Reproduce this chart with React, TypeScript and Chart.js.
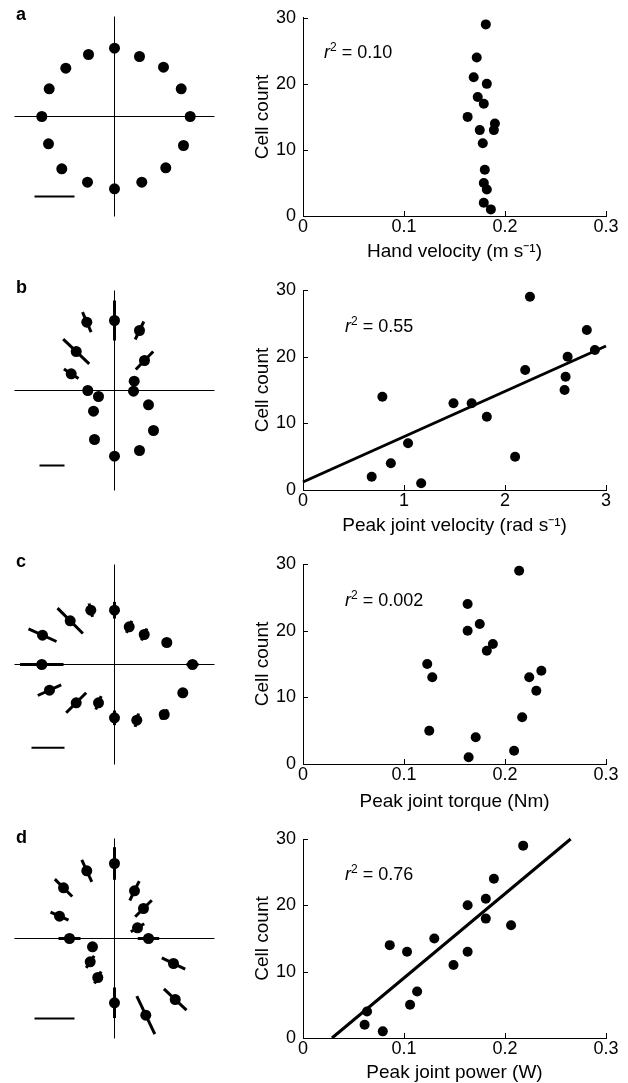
import React, { useEffect, useRef } from 'react';
import { Chart, registerables } from 'chart.js';
Chart.register(...registerables);

const FONT = '"Liberation Sans", Arial, Helvetica, sans-serif';
Chart.defaults.font.family = FONT;
Chart.defaults.color = '#000';

// ---------- Right-hand scatter panels ----------
const cellCount = [29, 24, 21, 20, 18, 17, 15, 14, 13, 13, 11, 7, 5, 4, 2, 1];
const handVelocity = [0.181, 0.172, 0.169, 0.182, 0.173, 0.179, 0.163, 0.19, 0.175, 0.189, 0.178, 0.18, 0.179, 0.182, 0.179, 0.186];
const peakJointVelocity = [2.247, 2.81, 2.89, 2.62, 2.2, 2.6, 2.59, 0.786, 1.49, 1.67, 1.82, 1.04, 2.1, 0.87, 0.68, 1.17];
const peakJointTorque = [0.214, 0.163, 0.175, 0.163, 0.188, 0.182, 0.123, 0.236, 0.128, 0.224, 0.231, 0.217, 0.125, 0.171, 0.209, 0.164];
const peakJointPower = [0.218, 0.189, 0.181, 0.163, 0.181, 0.206, 0.13, 0.0859, 0.103, 0.163, 0.149, 0.113, 0.106, 0.0634, 0.061, 0.079];

const fitVelocityX = [0, 3];
const fitVelocityY = [1.2, 21.6];
const fitPowerX = [0.0287, 0.265];
const fitPowerY = [0, 30];

const yTicks = [0, 10, 20, 30];
const yTickLabels = ['0', '10', '20', '30'];
const xTicksSmall = [0, 0.1, 0.2, 0.3];
const xTickLabelsSmall = ['0', '0.1', '0.2', '0.3'];
const xTicksVel = [0, 1, 2, 3];
const xTickLabelsVel = ['0', '1', '2', '3'];

const r2Values = ['0.10', '0.55', '0.002', '0.76'];
const xTitles = ['Hand velocity (m s⁻¹)', 'Peak joint velocity (rad s⁻¹)', 'Peak joint torque (Nm)', 'Peak joint power (W)'];
const panelLetters = ['a', 'b', 'c', 'd'];

// ---------- Left-hand direction panels (axis half-length = 1) ----------
const dirAX = [0, 0.25, 0.49, 0.667, 0.757, 0.69, 0.513, 0.273, 0, -0.27, -0.527, -0.66, -0.727, -0.653, -0.487, -0.26];
const dirAY = [0.683, 0.6, 0.493, 0.277, 0, -0.29, -0.513, -0.657, -0.723, -0.657, -0.523, -0.273, 0, 0.277, 0.483, 0.62];
const dirAErrX = [0, 0, 0, 0.012, 0.01, 0.008, 0.005, 0.005, 0, 0.006, 0, 0, 0, 0, 0, 0];
const dirAErrY = [0, 0, 0, 0.008, 0, 0.008, 0.005, 0.012, 0, 0.012, 0, 0, 0, 0, 0, 0];

const dirBX = [0, 0.25, 0.3, 0.197, 0.19, 0.34, 0.39, 0.25, 0, -0.2, -0.21, -0.16, -0.267, -0.433, -0.383, -0.277];
const dirBY = [0.7, 0.6, 0.3, 0.093, -0.007, -0.143, -0.4, -0.6, -0.657, -0.49, -0.207, -0.06, 0, 0.167, 0.39, 0.683];
const dirBErrX = [0, 0.043, 0.087, 0, 0, 0, 0, 0.01, 0, 0, 0, 0, 0, 0.073, 0.13, 0.043];
const dirBErrY = [0.2, 0.09, 0.09, 0, 0, 0, 0, -0.01, 0, 0, 0, 0, 0, -0.047, -0.123, -0.1];

const dirCX = [0, 0.147, 0.297, 0.523, 0.78, 0.683, 0.497, 0.223, 0, -0.16, -0.383, -0.65, -0.727, -0.72, -0.443, -0.237];
const dirCY = [0.543, 0.377, 0.3, 0.22, 0, -0.283, -0.5, -0.557, -0.533, -0.383, -0.383, -0.257, 0, 0.293, 0.437, 0.543];
const dirCErrX = [0, 0.027, 0.027, 0.033, 0.06, 0.04, 0.033, 0.017, 0, 0.027, 0.1, 0.117, 0.217, 0.14, 0.127, 0.017];
const dirCErrY = [0.083, 0.06, 0.06, 0.033, 0, 0.033, 0.05, 0.067, 0.073, 0.067, 0.1, 0.053, 0, -0.063, -0.127, -0.067];

const dirDX = [0, -0.277, -0.51, -0.55, -0.45, -0.22, -0.243, -0.167, 0, 0.313, 0.607, 0.59, 0.34, 0.23, 0.29, 0.2];
const dirDY = [0.75, 0.677, 0.507, 0.223, 0, -0.083, -0.233, -0.39, -0.643, -0.767, -0.61, -0.25, 0, 0.107, 0.3, 0.477];
const dirDErrX = [0, 0.05, 0.087, 0.09, 0.11, 0, 0.04, 0.033, 0, 0.09, 0.113, 0.117, 0.107, 0.067, 0.083, 0.047];
const dirDErrY = [0.163, -0.11, -0.087, -0.04, 0, 0, 0.06, 0.06, 0.153, -0.19, -0.107, -0.057, 0, 0.04, 0.083, 0.097];

const scaleBarA = [-0.8, -0.4, -0.8];
const scaleBarB = [-0.75, -0.5, -0.75];
const scaleBarC = [-0.83, -0.5, -0.833];
const scaleBarD = [-0.8, -0.4, -0.8];

// ---------- plugins ----------
const inwardTicks = {
  id: 'inwardTicks',
  afterDraw(chart: any) {
    const { ctx, chartArea } = chart;
    const xs = chart.scales.x;
    const ys = chart.scales.y;
    ctx.save();
    ctx.strokeStyle = '#000';
    ctx.lineWidth = 1;
    xs.ticks.forEach((t: any) => {
      const px = Math.round(xs.getPixelForValue(t.value)) + 0.5;
      ctx.beginPath();
      ctx.moveTo(px, chartArea.bottom);
      ctx.lineTo(px, chartArea.bottom - 5);
      ctx.stroke();
    });
    ys.ticks.forEach((t: any) => {
      const py = Math.round(ys.getPixelForValue(t.value)) + 0.5;
      ctx.beginPath();
      ctx.moveTo(chartArea.left, py);
      ctx.lineTo(chartArea.left + 5, py);
      ctx.stroke();
    });
    ctx.restore();
  },
};

const r2Plugin = (val: string, dx: number, dy: number) => ({
  id: 'r2label',
  afterDraw(chart: any) {
    const ctx = chart.ctx;
    const { left, top } = chart.chartArea;
    let x = left + dx;
    const y = top + dy;
    ctx.save();
    ctx.fillStyle = '#000';
    ctx.textAlign = 'left';
    ctx.textBaseline = 'alphabetic';
    ctx.font = `italic 18px ${FONT}`;
    ctx.fillText('r', x, y);
    x += ctx.measureText('r').width;
    ctx.font = `12px ${FONT}`;
    ctx.fillText('2', x, y - 7);
    x += ctx.measureText('2').width;
    ctx.font = `18px ${FONT}`;
    ctx.fillText(' = ' + val, x, y);
    ctx.restore();
  },
});

type RightSpec = {
  xs: number[];
  xMax: number;
  xTicks: number[];
  xLabels: string[];
  title: string;
  r2: string;
  r2dx: number;
  r2dy: number;
  fitX?: number[];
  fitY?: number[];
  padTop: number;
  axisH: number;
};

function rightConfig(p: RightSpec): any {
  const datasets: any[] = [
    {
      data: p.xs.map((v, i) => ({ x: v, y: cellCount[i] })),
      pointRadius: 5,
      pointBackgroundColor: '#000',
      pointBorderWidth: 0,
      backgroundColor: '#000',
      borderColor: '#000',
      clip: false,
    },
  ];
  if (p.fitX && p.fitY) {
    datasets.push({
      data: p.fitX.map((v, i) => ({ x: v, y: p.fitY![i] })),
      showLine: true,
      pointRadius: 0,
      borderColor: '#000',
      borderWidth: 3,
      clip: false,
    });
  }
  return {
    type: 'scatter',
    data: { datasets },
    options: {
      animation: false,
      responsive: false,
      maintainAspectRatio: false,
      events: [],
      layout: { padding: { top: p.padTop, right: 22, left: 0, bottom: 0 } },
      plugins: { legend: { display: false }, tooltip: { enabled: false } },
      scales: {
        x: {
          type: 'linear',
          min: 0,
          max: p.xMax,
          grid: { display: false, drawTicks: false },
          border: { display: true, color: '#000', width: 1 },
          ticks: {
            font: { size: 18, family: FONT },
            color: '#000',
            padding: 0,
            maxRotation: 0,
            callback: (_v: any, i: number) => p.xLabels[i],
          },
          afterBuildTicks: (s: any) => {
            s.ticks = p.xTicks.map((v) => ({ value: v }));
          },
          title: { display: true, text: p.title, font: { size: 19, family: FONT }, color: '#000', padding: { top: 0, bottom: 0 } },
          afterFit: (s: any) => {
            s.height = p.axisH;
          },
        },
        y: {
          type: 'linear',
          min: 0,
          max: 30,
          grid: { display: false, drawTicks: false },
          border: { display: true, color: '#000', width: 1 },
          ticks: {
            font: { size: 18, family: FONT },
            color: '#000',
            padding: 7,
            callback: (_v: any, i: number) => yTickLabels[i],
          },
          afterBuildTicks: (s: any) => {
            s.ticks = yTicks.map((v) => ({ value: v }));
          },
          title: { display: true, text: 'Cell count', font: { size: 19, family: FONT }, color: '#000', padding: { top: 31, bottom: 0 } },
          afterFit: (s: any) => {
            s.width = 83;
          },
        },
      },
    },
    plugins: [inwardTicks, r2Plugin(p.r2, p.r2dx, p.r2dy)],
  };
}

type LeftSpec = { xs: number[]; ys: number[]; ex: number[]; ey: number[]; bar: number[] };

function leftConfig(p: LeftSpec): any {
  const datasets: any[] = [
    {
      data: p.xs.map((v, i) => ({ x: v, y: p.ys[i] })),
      pointRadius: 5.5,
      pointBackgroundColor: '#000',
      pointBorderWidth: 0,
      backgroundColor: '#000',
      borderColor: '#000',
      clip: false,
    },
  ];
  p.xs.forEach((v, i) => {
    if (p.ex[i] !== 0 || p.ey[i] !== 0) {
      datasets.push({
        data: [
          { x: v - p.ex[i], y: p.ys[i] - p.ey[i] },
          { x: v + p.ex[i], y: p.ys[i] + p.ey[i] },
        ],
        showLine: true,
        pointRadius: 0,
        borderColor: '#000',
        borderWidth: 3,
        clip: false,
      });
    }
  });
  datasets.push({
    data: [
      { x: p.bar[0], y: p.bar[2] },
      { x: p.bar[1], y: p.bar[2] },
    ],
    showLine: true,
    pointRadius: 0,
    borderColor: '#000',
    borderWidth: 2,
    clip: false,
  });
  datasets.push({
    data: [
      { x: -1, y: 0 },
      { x: 1, y: 0 },
    ],
    showLine: true,
    pointRadius: 0,
    borderColor: '#000',
    borderWidth: 1,
    clip: false,
  });
  datasets.push({
    data: [
      { x: 0, y: -1 },
      { x: 0, y: 1 },
    ],
    showLine: true,
    pointRadius: 0,
    borderColor: '#000',
    borderWidth: 1,
    clip: false,
  });
  return {
    type: 'scatter',
    data: { datasets },
    options: {
      animation: false,
      responsive: false,
      maintainAspectRatio: false,
      events: [],
      layout: { padding: { top: 10.5, bottom: 9.5, left: 10.5, right: 5.5 } },
      plugins: { legend: { display: false }, tooltip: { enabled: false } },
      scales: {
        x: { type: 'linear', min: -1, max: 1, display: false },
        y: { type: 'linear', min: -1, max: 1, display: false },
      },
    },
  };
}

function ChartCanvas({ make, left, top, width, height }: { make: () => any; left: number; top: number; width: number; height: number }) {
  const ref = useRef<HTMLCanvasElement | null>(null);
  useEffect(() => {
    const chart = new Chart(ref.current as HTMLCanvasElement, make());
    return () => chart.destroy();
  }, []);
  return (
    <canvas
      ref={ref}
      width={width}
      height={height}
      style={{ position: 'absolute', left, top, width, height }}
    />
  );
}

const rightSpecs: RightSpec[] = [
  { xs: handVelocity, xMax: 0.3, xTicks: xTicksSmall, xLabels: xTickLabelsSmall, title: xTitles[0], r2: r2Values[0], r2dx: 21, r2dy: 40, padTop: 17, axisH: 47 },
  { xs: peakJointVelocity, xMax: 3, xTicks: xTicksVel, xLabels: xTickLabelsVel, title: xTitles[1], r2: r2Values[1], r2dx: 42, r2dy: 42, fitX: fitVelocityX, fitY: fitVelocityY, padTop: 20, axisH: 47 },
  { xs: peakJointTorque, xMax: 0.3, xTicks: xTicksSmall, xLabels: xTickLabelsSmall, title: xTitles[2], r2: r2Values[2], r2dx: 42, r2dy: 42, padTop: 20, axisH: 49 },
  { xs: peakJointPower, xMax: 0.3, xTicks: xTicksSmall, xLabels: xTickLabelsSmall, title: xTitles[3], r2: r2Values[3], r2dx: 42, r2dy: 41, fitX: fitPowerX, fitY: fitPowerY, padTop: 20, axisH: 46 },
];
const rightTops = [0, 270, 544, 819];
const rightPlotH = [199, 200, 200, 199];

const leftSpecs: LeftSpec[] = [
  { xs: dirAX, ys: dirAY, ex: dirAErrX, ey: dirAErrY, bar: scaleBarA },
  { xs: dirBX, ys: dirBY, ex: dirBErrX, ey: dirBErrY, bar: scaleBarB },
  { xs: dirCX, ys: dirCY, ex: dirCErrX, ey: dirCErrY, bar: scaleBarC },
  { xs: dirDX, ys: dirDY, ex: dirDErrX, ey: dirDErrY, bar: scaleBarD },
];
const leftTops = [6, 280, 554, 828];
const letterTops = [4.8, 277.8, 551.8, 827.8];

export default function App() {
  return (
    <div style={{ position: 'absolute', left: 0, top: 0, width: 628, height: 1083, background: '#fff', overflow: 'hidden' }}>
      {leftSpecs.map((s, i) => (
        <ChartCanvas key={'l' + i} make={() => leftConfig(s)} left={4} top={leftTops[i]} width={216} height={220} />
      ))}
      {rightSpecs.map((s, i) => (
        <ChartCanvas
          key={'r' + i}
          make={() => rightConfig(s)}
          left={220}
          top={rightTops[i]}
          width={408}
          height={s.padTop + rightPlotH[i] + s.axisH}
        />
      ))}
      {panelLetters.map((l, i) => (
        <div
          key={'t' + i}
          style={{ position: 'absolute', left: 16, top: letterTops[i], fontFamily: FONT, fontWeight: 'bold', fontSize: 18, lineHeight: '18px', color: '#000' }}
        >
          {l}
        </div>
      ))}
    </div>
  );
}
